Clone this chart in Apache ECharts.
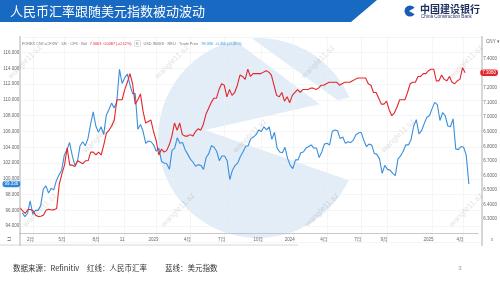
<!DOCTYPE html>
<html><head><meta charset="utf-8">
<script src="https://cdn.jsdelivr.net/npm/echarts@6/dist/echarts.min.js"></script>
<style>html,body{margin:0;padding:0;background:#fff}#c{width:500px;height:281px}</style>
</head><body><div id="c"></div>
<script>
// weekly (Friday) categories; last 5 weeks are empty space on the right of the chart
const weeks = [
'2022-01-07','2022-01-14','2022-01-21','2022-01-28','2022-02-04','2022-02-11','2022-02-18','2022-02-25','2022-03-04','2022-03-11','2022-03-18','2022-03-25','2022-04-01','2022-04-08','2022-04-15','2022-04-22','2022-04-29','2022-05-06','2022-05-13','2022-05-20','2022-05-27','2022-06-03','2022-06-10','2022-06-17','2022-06-24','2022-07-01','2022-07-08','2022-07-15','2022-07-22','2022-07-29','2022-08-05','2022-08-12','2022-08-19','2022-08-26','2022-09-02','2022-09-09','2022-09-16','2022-09-23','2022-09-30','2022-10-07','2022-10-14','2022-10-21','2022-10-28','2022-11-04','2022-11-11','2022-11-18','2022-11-25','2022-12-02','2022-12-09','2022-12-16','2022-12-23','2022-12-30',
'2023-01-06','2023-01-13','2023-01-20','2023-01-27','2023-02-03','2023-02-10','2023-02-17','2023-02-24','2023-03-03','2023-03-10','2023-03-17','2023-03-24','2023-03-31','2023-04-07','2023-04-14','2023-04-21','2023-04-28','2023-05-05','2023-05-12','2023-05-19','2023-05-26','2023-06-02','2023-06-09','2023-06-16','2023-06-23','2023-06-30','2023-07-07','2023-07-14','2023-07-21','2023-07-28','2023-08-04','2023-08-11','2023-08-18','2023-08-25','2023-09-01','2023-09-08','2023-09-15','2023-09-22','2023-09-29','2023-10-06','2023-10-13','2023-10-20','2023-10-27','2023-11-03','2023-11-10','2023-11-17','2023-11-24','2023-12-01','2023-12-08','2023-12-15','2023-12-22','2023-12-29',
'2024-01-05','2024-01-12','2024-01-19','2024-01-26','2024-02-02','2024-02-09','2024-02-16','2024-02-23','2024-03-01','2024-03-08','2024-03-15','2024-03-22','2024-03-29','2024-04-05','2024-04-12','2024-04-19','2024-04-26','2024-05-03','2024-05-10','2024-05-17','2024-05-24','2024-05-31','2024-06-07','2024-06-14','2024-06-21','2024-06-28','2024-07-05','2024-07-12','2024-07-19','2024-07-26','2024-08-02','2024-08-09','2024-08-16','2024-08-23','2024-08-30','2024-09-06','2024-09-13','2024-09-20','2024-09-27','2024-10-04','2024-10-11','2024-10-18','2024-10-25','2024-11-01','2024-11-08','2024-11-15','2024-11-22','2024-11-29','2024-12-06','2024-12-13','2024-12-20','2024-12-27',
'2025-01-03','2025-01-10','2025-01-17','2025-01-24','2025-01-31','2025-02-07','2025-02-14','2025-02-21','2025-02-28','2025-03-07','2025-03-14','2025-03-21','2025-03-28','2025-04-04','2025-04-11','2025-04-18','2025-04-25','2025-05-02','2025-05-09','2025-05-16'
];

// USD index (blue, left axis)
const usdIndex = [
95.7,95.2,95.6,97.2, 95.5,96.0,96.0,96.6, 98.7,99.1,98.2,98.8, 98.6,99.8,100.5,101.1,103.0, 103.7,104.6,103.0,101.7, 102.2,104.2,104.7,104.2, 105.1,106.9,108.5,106.7,105.9, 106.6,105.6,108.1,108.8, 109.6,109.0,109.8,113.9,112.1, 112.8,113.3,111.9,110.8, 110.8,106.3,106.9,106.0, 104.5,104.8,104.7,104.3,103.5,
103.9,102.2,102.0,101.9, 101.2,103.6,103.9,105.2, 104.5,104.6,103.7,103.1,102.5, 102.1,101.6,101.8,101.7, 101.2,102.7,103.2,104.2, 104.0,103.5,102.3,102.9,102.9, 102.3,99.9,101.1,101.7, 102.0,102.8,103.4,104.1, 104.2,105.1,105.3,105.6,106.2, 106.0,106.6,106.2,106.6, 105.0,105.9,103.9,103.4, 103.3,104.0,102.6,101.7,101.3,
102.4,102.4,103.3,103.4, 103.9,104.1,104.3,103.9, 103.9,102.7,103.4,104.4,104.5, 104.3,106.0,106.2,106.1, 105.1,105.3,104.5,104.7,104.6, 104.9,105.6,105.8,105.9, 104.9,104.1,104.4,104.3, 103.2,103.1,102.5,100.7,101.7, 101.2,101.1,100.7,100.4, 102.5,102.9,103.5,104.3, 104.3,105.0,106.7,107.5,105.7, 106.1,107.0,107.8,108.0,
108.9,109.7,109.4,107.4,108.4, 108.0,106.7,106.6,107.6, 103.8,103.7,104.1,104.0, 103.0,99.336
];

// USD/CNY (red, right axis)
const usdCny = [
6.376,6.355,6.338,6.365, 6.365,6.357,6.326,6.317, 6.319,6.328,6.361,6.367, 6.362,6.364,6.372,6.540,6.610, 6.670,6.790,6.670,6.670, 6.660,6.700,6.690,6.680, 6.700,6.700,6.760,6.760,6.740, 6.760,6.740,6.810,6.890, 6.910,6.940,6.980,7.120,7.120, 7.120,7.190,7.240,7.300, 7.230,7.090,7.120,7.160, 7.040,6.960,6.970,6.980,6.900,
6.840,6.740,6.780,6.760, 6.770,6.810,6.870,6.960, 6.910,6.960,6.880,6.870,6.870, 6.880,6.870,6.900,6.920, 6.910,6.950,7.020,7.060, 7.100,7.130,7.130,7.190,7.230, 7.220,7.140,7.190,7.150, 7.170,7.220,7.290,7.280, 7.260,7.330,7.280,7.300,7.300, 7.300,7.300,7.310,7.320, 7.310,7.290,7.220,7.150, 7.140,7.170,7.110,7.140,7.100,
7.150,7.170,7.190,7.170, 7.190,7.190,7.190,7.200, 7.200,7.190,7.200,7.220,7.220, 7.230,7.240,7.240,7.240, 7.240,7.220,7.230,7.240,7.240, 7.240,7.250,7.260,7.270, 7.270,7.270,7.270,7.230, 7.220,7.170,7.170,7.130,7.090, 7.090,7.110,7.050,7.010, 7.030,7.070,7.120,7.120, 7.120,7.170,7.230,7.240,7.240, 7.280,7.280,7.300,7.300,
7.320,7.330,7.330,7.250,7.250, 7.290,7.260,7.250,7.280, 7.240,7.230,7.250,7.260, 7.340,7.306
];

// x tick labels (category -> label text)
const xTickLabels = {
'2022-02-04':'2月','2022-04-29':'5月','2022-07-29':'8月','2022-10-07':'11','2022-12-30':'2023',
'2023-03-31':'4月','2023-06-30':'7月','2023-10-06':'10月','2023-12-29':'2024',
'2024-03-29':'4月','2024-06-28':'7月','2024-09-06':'9月','2025-01-03':'2025','2025-03-28':'4月'
};

const FONT = 'Liberation Sans, Arial, Noto Sans CJK SC, sans-serif';
const CJK = 'Noto Sans CJK SC, sans-serif';
const isTick = (i, v) => Object.prototype.hasOwnProperty.call(xTickLabels, v);
const lastUsd = usdIndex[usdIndex.length - 1];
const lastCny = usdCny[usdCny.length - 1];

// header text pieces
const HF = 3.8;
const hdr1 = 'FOREX CNY=CFXW · 1天 · CFS · Bid';
const hdr2 = '7.3063  0.0087 (+0.12%)';
const hdr3 = 'USD INDEX · REU · Trade Price';
const hdr4 = '99.336  -0.450 (-0.45%)';
const mctx = document.createElement('canvas').getContext('2d');
mctx.font = HF + 'px ' + FONT;
const w1 = mctx.measureText(hdr1).width, w2 = mctx.measureText(hdr2).width, w3 = mctx.measureText(hdr3).width;
const hx1 = 22, hx2 = hx1 + w1 + 3, hbox = hx2 + w2 + 3, hx3 = hbox + 9, hx4 = hx3 + w3 + 3;

const watermarkPos = [[25,62],[172,62],[318,62],[466,62],[100,136],[250,136],[398,136],[40,210],[178,210],[322,210],[466,210]];
const watermarks = watermarkPos.map(p => ({
  type:'text', x:p[0], y:p[1], rotation:Math.PI/4, z:100, silent:true,
  style:{text:'wangle11.sz', fill:'rgba(0,0,0,0.13)', font:'8px ' + FONT, align:'center', verticalAlign:'middle'}
}));

const chart = echarts.init(document.getElementById('c'));
chart.setOption({
  animation:false,
  backgroundColor:'#fff',
  grid:[
    {left:20, right:18, top:36.9, bottom:39.1},
    {left:20, right:18, top:44.5, bottom:47.5}
  ],
  xAxis:[
    {type:'category', gridIndex:0, data:weeks, boundaryGap:false,
     axisLine:{show:false}, axisTick:{show:false}, axisLabel:{show:false},
     splitLine:{show:true, interval:isTick, lineStyle:{color:'#eeeeee', width:0.6}}},
    {type:'category', gridIndex:1, data:weeks, boundaryGap:false,
     axisLine:{show:true, lineStyle:{color:'#bbbbbb', width:0.8}}, axisTick:{show:false},
     axisLabel:{show:true, interval:isTick, formatter:v => xTickLabels[v] || '', fontSize:4.5, color:'#666', margin:4, fontFamily:FONT}}
  ],
  yAxis:[
    {type:'value', gridIndex:0, position:'left', min:92, max:118, interval:2,
     axisLine:{show:false}, axisTick:{show:false},
     axisLabel:{fontSize:4.5, color:'#666', margin:3, fontFamily:FONT,
       formatter:v => (v <= 92 || v >= 118) ? '' : v.toFixed(3)},
     splitLine:{show:true, lineStyle:{color:'#eeeeee', width:0.6}},
     axisPointer:{show:true, status:'show', value:lastUsd, type:'line', triggerTooltip:false,
       lineStyle:{opacity:0},
       label:{show:true, formatter:p => Number(p.value).toFixed(3), backgroundColor:'#2f86d6', color:'#fff',
         fontSize:4.5, padding:[1,2,1,2], margin:2, fontFamily:FONT}}},
    {type:'value', gridIndex:1, position:'right', min:6.2, max:7.5, interval:0.1,
     axisLine:{show:false}, axisTick:{show:false}, splitLine:{show:false},
     axisLabel:{fontSize:4.5, color:'#666', margin:5, fontFamily:FONT,
       formatter:v => (v < 6.25 || v > 7.45) ? '' : v.toFixed(4)},
     axisPointer:{show:true, status:'show', value:lastCny, type:'line', triggerTooltip:false,
       lineStyle:{opacity:0},
       label:{show:true, formatter:p => Number(p.value).toFixed(4), backgroundColor:'#e3262b', color:'#fff',
         fontSize:4.5, padding:[1,2,1,2], margin:2, fontFamily:FONT}}}
  ],
  series:[
    {name:'USD INDEX', type:'line', xAxisIndex:0, yAxisIndex:0, data:usdIndex, showSymbol:false,
     lineStyle:{color:'#3a8fdc', width:1.1}, itemStyle:{color:'#3a8fdc'}, z:5},
    {name:'CNY', type:'line', xAxisIndex:1, yAxisIndex:1, data:usdCny, showSymbol:false,
     lineStyle:{color:'#e3262b', width:1.1}, itemStyle:{color:'#e3262b'}, z:6}
  ],
  graphic:[
    // background logo
    {type:'group', z:-10, silent:true, children:[
      {type:'circle', shape:{cx:258, cy:138, r:100}, style:{fill:'#e2edf8'}},
      {type:'polygon', shape:{points:[[226,34],[246,34],[365,120],[365,138]]}, style:{fill:'#ffffff'}},
      {type:'polygon', shape:{points:[[205,130],[365,94],[365,186]]}, style:{fill:'#ffffff'}}
    ]},
    // frame lines
    {type:'line', shape:{x1:20, y1:36, x2:20, y2:246}, style:{stroke:'#9a9a9a', lineWidth:0.8}, z:20},
    {type:'line', shape:{x1:482, y1:36, x2:482, y2:246}, style:{stroke:'#9a9a9a', lineWidth:0.8}, z:20},
    {type:'line', shape:{x1:0, y1:245, x2:298, y2:245}, style:{stroke:'#cccccc', lineWidth:0.8}, z:20},
    // title banner
    {type:'polygon', shape:{points:[[0,0],[377,0],[351,22],[0,22]]}, style:{fill:'#1769c2'}, z:30},
    {type:'text', x:10, y:11, z:31, style:{text:'人民币汇率跟随美元指数被动波动', fill:'#ffffff', font:'13px ' + CJK, verticalAlign:'middle'}},
    // bank logo
    {type:'circle', shape:{cx:410, cy:11, r:5.5}, style:{fill:'#1a5cb5'}, z:30},
    {type:'polygon', shape:{points:[[409,11],[416,7],[416,15]]}, style:{fill:'#ffffff'}, z:31},
    {type:'text', x:420, y:9, z:31, style:{text:'中国建设银行', fill:'#1d2f5e', font:'bold 10px ' + CJK, verticalAlign:'middle'}},
    {type:'text', x:421, y:17, z:31, style:{text:'China Construction Bank', fill:'#1d2f5e', font:'4.6px ' + FONT, verticalAlign:'middle'}},
    // chart header
    {type:'text', x:hx1, y:43.5, z:31, style:{text:hdr1, fill:'#777', font:HF + 'px ' + FONT, verticalAlign:'middle'}},
    {type:'text', x:hx2, y:43.5, z:31, style:{text:hdr2, fill:'#e3262b', font:HF + 'px ' + FONT, verticalAlign:'middle'}},
    {type:'rect', shape:{x:hbox, y:40.5, width:6, height:6, r:1}, style:{fill:'#fff', stroke:'#bbb', lineWidth:0.5}, z:31},
    {type:'text', x:hbox + 3, y:43.5, z:32, style:{text:'K', fill:'#666', font:'3.6px ' + FONT, align:'center', verticalAlign:'middle'}},
    {type:'text', x:hx3, y:43.5, z:31, style:{text:hdr3, fill:'#777', font:HF + 'px ' + FONT, verticalAlign:'middle'}},
    {type:'text', x:hx4, y:43.5, z:31, style:{text:hdr4, fill:'#3a8fdc', font:HF + 'px ' + FONT, verticalAlign:'middle'}},
    {type:'text', x:486, y:42, z:31, style:{text:'CNY ▾', fill:'#666', font:'4.6px ' + FONT, verticalAlign:'middle'}},
    {type:'text', x:9, y:240, z:31, style:{text:'⊐', fill:'#888', font:'5px ' + FONT, align:'center', verticalAlign:'middle'}},
    {type:'text', x:492, y:240, z:31, style:{text:'x', fill:'#888', font:'5px ' + FONT, align:'center', verticalAlign:'middle'}},
    // footer
    {type:'text', x:13, y:268, z:31, style:{text:'数据来源：Refinitiv', fill:'#333', font:'7.5px ' + CJK, verticalAlign:'middle'}},
    {type:'text', x:87, y:268, z:31, style:{text:'红线：人民币汇率', fill:'#333', font:'7.5px ' + CJK, verticalAlign:'middle'}},
    {type:'text', x:165, y:268, z:31, style:{text:'蓝线：美元指数', fill:'#333', font:'7.5px ' + CJK, verticalAlign:'middle'}},
    {type:'text', x:460, y:268, z:31, style:{text:'3', fill:'#999', font:'6px ' + FONT, align:'center', verticalAlign:'middle'}}
  ].concat(watermarks)
});
</script>
</body></html>
